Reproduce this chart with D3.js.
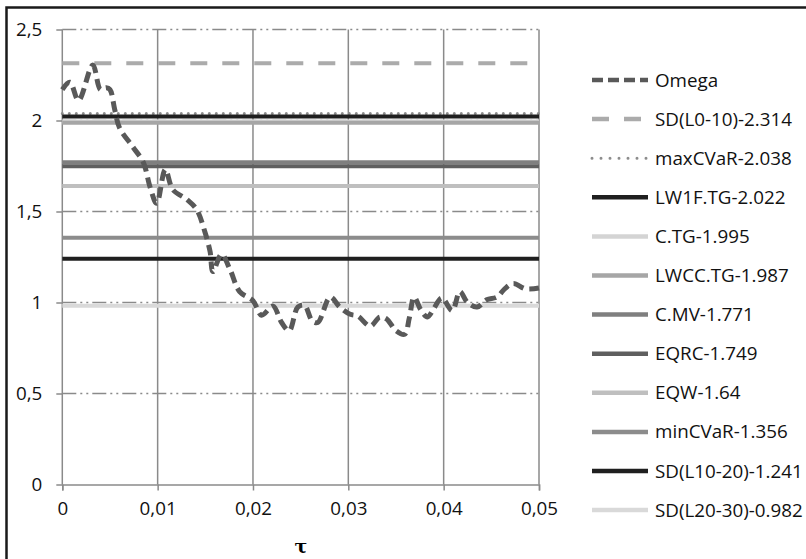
<!DOCTYPE html>
<html><head><meta charset="utf-8">
<script src="https://cdn.jsdelivr.net/npm/d3@7"></script>
<style>body{margin:0;background:#fff}svg{display:block}</style>
</head><body>
<svg id="c" width="806" height="559"></svg>
<script>
const tau = [0,0.0008,0.0017,0.0032,0.0040,0.0046,0.0050,0.0055,0.0060,0.0074,0.0085,0.0092,0.0099,0.0108,0.0116,0.0131,0.0141,0.0150,0.0155,0.0158,0.0167,0.0176,0.0186,0.0200,0.0209,0.0221,0.0230,0.0238,0.0247,0.0254,0.0262,0.0268,0.0281,0.0291,0.0302,0.0310,0.0323,0.0333,0.0340,0.0350,0.0359,0.0364,0.0369,0.0376,0.0383,0.0389,0.0398,0.0409,0.0417,0.0425,0.0435,0.0445,0.0456,0.0464,0.0473,0.0486,0.05];
const omega = [2.17,2.21,2.11,2.305,2.17,2.18,2.17,2.06,1.96,1.855,1.77,1.635,1.545,1.73,1.62,1.565,1.51,1.38,1.28,1.17,1.265,1.18,1.06,1.01,0.93,0.98,0.89,0.845,0.975,0.985,0.90,0.89,1.03,0.975,0.935,0.925,0.87,0.92,0.91,0.845,0.825,0.915,1.03,0.96,0.92,0.96,1.025,0.955,1.06,1.0,0.975,1.015,1.03,1.075,1.105,1.075,1.08];
const refNames = ["SD(L0-10)","maxCVaR","LW1F.TG","C.TG","LWCC.TG","C.MV","EQRC","EQW","minCVaR","SD(L10-20)","SD(L20-30)"];
const refValues = [2.314,2.038,2.022,1.995,1.987,1.771,1.749,1.64,1.356,1.241,0.982];
const refColors = ["#ababab","#8c8c8c","#1f1f1f","#d4d4d4","#a6a6a6","#7f7f7f","#5f5f5f","#bfbfbf","#8c8c8c","#1f1f1f","#d9d9d9"];
const refDash = ["17,15","0,7","","","","","","","","",""];
const xTicks = [0,0.01,0.02,0.03,0.04,0.05];
const yTicks = [0,0.5,1,1.5,2,2.5];

const svg = d3.select("#c");
const x = d3.scaleLinear().domain([0,0.05]).range([62.3,539]);
const y = d3.scaleLinear().domain([0,2.5]).range([484.5,29.5]);
const fmt = v => String(v).replace(".", ",");
const font = "'Open Sans', Lato, sans-serif";
const fs = "18.8px";

// frame
svg.append("rect").attr("x",6.5).attr("y",7.5).attr("width",830).attr("height",600)
  .attr("fill","none").attr("stroke","#1a1a1a").attr("stroke-width",2.5);

// horizontal grid (dash-dot-dot)
svg.append("g").selectAll("line").data(yTicks.filter(d=>d>0)).join("line")
  .attr("x1",x(0)).attr("x2",x(0.05)).attr("y1",d=>y(d)).attr("y2",d=>y(d))
  .attr("stroke","#8a8a8a").attr("stroke-width",1.3).attr("stroke-dasharray","14,4,2,4,2,4");
// vertical grid
svg.append("g").selectAll("line").data(xTicks).join("line")
  .attr("x1",d=>x(d)).attr("x2",d=>x(d)).attr("y1",y(2.5)).attr("y2",y(0))
  .attr("stroke","#8a8a8a").attr("stroke-width",1.5);

// axes
const xa = svg.append("g").attr("transform",`translate(0,${y(0)})`)
  .call(d3.axisBottom(x).tickValues(xTicks).tickFormat(fmt).tickSize(6).tickPadding(11));
const ya = svg.append("g").attr("transform",`translate(${x(0)},0)`)
  .call(d3.axisLeft(y).tickValues(yTicks).tickFormat(fmt).tickSize(6).tickPadding(14));
[xa,ya].forEach(a=>{
  a.select(".domain").attr("stroke","#8a8a8a").attr("stroke-width",1.5);
  a.selectAll(".tick line").attr("stroke","#8a8a8a").attr("stroke-width",1.5);
  a.selectAll("text").attr("fill","#111").style("font-family",font).style("font-size",fs);
});
ya.select(".domain").remove();

// reference lines
svg.append("g").selectAll("line").data(refValues).join("line")
  .attr("x1",x(0)).attr("x2",x(0.05)).attr("y1",d=>y(d)).attr("y2",d=>y(d))
  .attr("stroke",(d,i)=>refColors[i]).attr("stroke-width",(d,i)=>i===1?3:4)
  .attr("stroke-linecap",(d,i)=>i===1?"round":"butt")
  .attr("stroke-dasharray",(d,i)=>refDash[i]||null);

// Omega
const line = d3.line().x(d=>x(d[0])).y(d=>y(d[1])).curve(d3.curveCatmullRom.alpha(0.5));
svg.append("path").datum(tau.map((t,i)=>[t,omega[i]])).attr("d",line)
  .attr("fill","none").attr("stroke","#595959").attr("stroke-width",5)
  .attr("stroke-dasharray","11,6");

// x label
svg.append("text").attr("x",301).attr("y",553).attr("text-anchor","middle")
  .style("font-family","'DejaVu Serif', serif").style("font-size","19px").style("font-weight","bold").text("τ");

// legend
const legNames = ["Omega"].concat(refNames.map((n,i)=>n+"-"+refValues[i]));
const legColors = ["#595959"].concat(refColors);
const legDash = ["11,5"].concat(refDash);
const lg = svg.append("g");
legNames.forEach((n,i)=>{
  const yy = 80 + i*39.1;
  lg.append("line").attr("x1",592).attr("x2",648).attr("y1",yy).attr("y2",yy)
    .attr("stroke",legColors[i]).attr("stroke-width",i===2?3:4.5)
    .attr("stroke-linecap",i===2?"round":"butt")
    .attr("stroke-dasharray",i===2?"0,9":(legDash[i]||null));
  lg.append("text").attr("x",655).attr("y",yy).attr("dy","0.35em")
    .style("font-family",font).style("font-size",fs).attr("fill","#111").text(n);
});
</script>
</body></html>
